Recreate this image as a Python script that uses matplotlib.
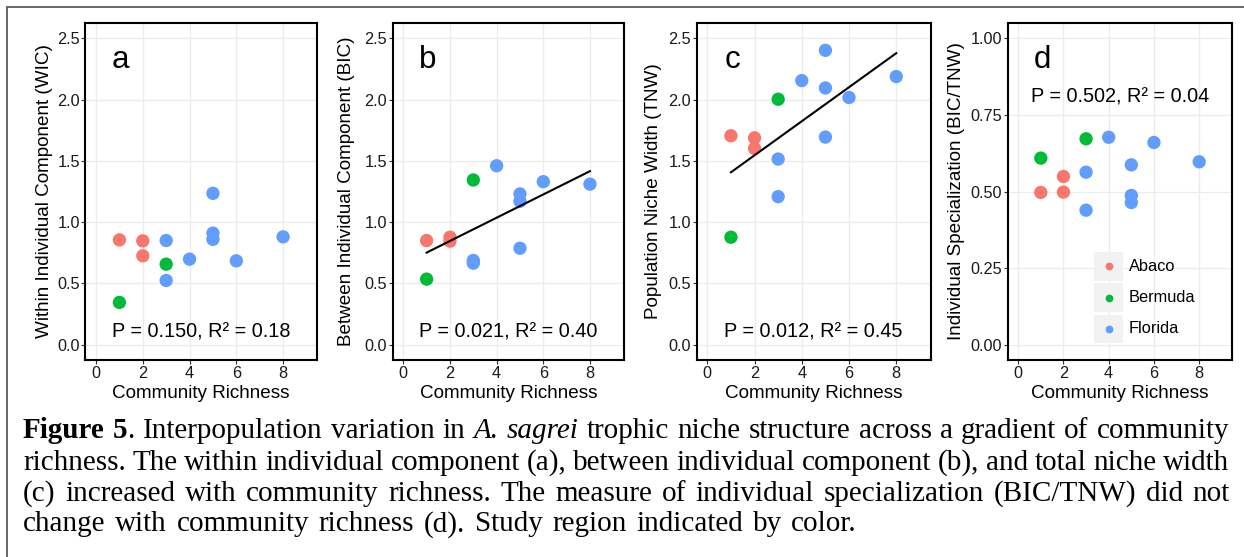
import matplotlib
matplotlib.use("Agg")
import matplotlib.pyplot as plt
import numpy as np
from matplotlib.patches import Rectangle
from matplotlib.lines import Line2D

W, H = 1244, 557

# ---------------- data ----------------
regions = ["Abaco", "Bermuda", "Florida"]
region_colors = ["#F8766D", "#00BA38", "#619CFF"]

abaco_richness = [1, 2, 2]
bermuda_richness = [1, 3]
florida_richness = [3, 3, 4, 5, 5, 5, 6, 8]

wic_abaco = [0.855, 0.847, 0.725]
wic_bermuda = [0.345, 0.657]
wic_florida = [0.85, 0.524, 0.698, 1.235, 0.91, 0.86, 0.684, 0.88]

bic_abaco = [0.85, 0.877, 0.845]
bic_bermuda = [0.535, 1.344]
bic_florida = [0.687, 0.665, 1.46, 1.23, 1.17, 0.787, 1.33, 1.31]

tnw_abaco = [1.705, 1.688, 1.601]
tnw_bermuda = [0.877, 2.003]
tnw_florida = [1.515, 1.208, 2.155, 2.402, 2.095, 1.694, 2.017, 2.188]

spec_abaco = [0.497, 0.549, 0.498]
spec_bermuda = [0.609, 0.672]
spec_florida = [0.563, 0.439, 0.677, 0.587, 0.487, 0.464, 0.66, 0.597]

panel_letters = ["a", "b", "c", "d"]
panel_ylabels = ["Within Individual Component (WIC)",
                 "Between Individual Component (BIC)",
                 "Population Niche Width (TNW)",
                 "Individual Specialization (BIC/TNW)"]
panel_stats = ["P = 0.150, R² = 0.18", "P = 0.021, R² = 0.40",
               "P = 0.012, R² = 0.45", "P = 0.502, R² = 0.04"]
panel_fit = [False, True, True, False]
xticks = [0, 2, 4, 6, 8]
yticks_main = [0.0, 0.5, 1.0, 1.5, 2.0, 2.5]
ytick_labels_main = ["0.0", "0.5", "1.0", "1.5", "2.0", "2.5"]
yticks_spec = [0.0, 0.25, 0.5, 0.75, 1.0]
ytick_labels_spec = ["0.00", "0.25", "0.50", "0.75", "1.00"]
xlabel = "Community Richness"

caption_lines = [
    [[("Figure", "bold")], [("5", "bold"), (".", "normal")], [("Interpopulation", "normal")],
     [("variation", "normal")], [("in", "normal")], [("A.", "italic")], [("sagrei", "italic")],
     [("trophic", "normal")], [("niche", "normal")], [("structure", "normal")],
     [("across", "normal")], [("a", "normal")], [("gradient", "normal")], [("of", "normal")],
     [("community", "normal")]],
    "richness. The within individual component (a), between individual component (b), and total niche width",
    "(c) increased with community richness. The measure of individual specialization (BIC/TNW) did not",
    "change with community richness (d). Study region indicated by color.",
]

series = [
    (wic_abaco, wic_bermuda, wic_florida),
    (bic_abaco, bic_bermuda, bic_florida),
    (tnw_abaco, tnw_bermuda, tnw_florida),
    (spec_abaco, spec_bermuda, spec_florida),
]
richness_by_region = [abaco_richness, bermuda_richness, florida_richness]

# ---------------- layout ----------------
fig = plt.figure(figsize=(W / 100, H / 100), dpi=100)
fig.patch.set_facecolor("white")

SANS = "Liberation Sans"
boxes = [(85.5, 23, 317, 360), (392.8, 23, 623.8, 360),
         (696.7, 23, 930.5, 360), (1008, 23, 1232, 360)]
ylabel_x = [45, 346.7, 653, 956.7]

# figure border
fig.add_artist(Rectangle((7 / W, -0.1), 1.2, (H - 7) / H + 0.1, transform=fig.transFigure,
                         fill=False, edgecolor="#666666", lw=1.4))

for i in range(4):
    l, t, r, b = boxes[i]
    ax = fig.add_axes([l / W, (H - b) / H, (r - l) / W, (b - t) / H])
    spec = (i == 3)
    ymax = 1.0 if spec else 2.5
    ax.set_xlim(-0.45, 9.45)
    ax.set_ylim(-0.05 * ymax, 1.05 * ymax)
    ax.set_xticks(xticks)
    ax.set_xticklabels([str(v) for v in xticks])
    if spec:
        ax.set_yticks(yticks_spec)
        ax.set_yticklabels(ytick_labels_spec)
    else:
        ax.set_yticks(yticks_main)
        ax.set_yticklabels(ytick_labels_main)
    ax.grid(True, color="#EBEBEB", lw=0.9)
    ax.set_axisbelow(True)
    for s in ax.spines.values():
        s.set_color("black")
        s.set_linewidth(1.5)
    ax.tick_params(length=2.6, width=0.8, color="#333333", pad=1.5,
                   labelsize=11.7, labelcolor="#1a1a1a")
    for lab in ax.get_xticklabels() + ax.get_yticklabels():
        lab.set_fontfamily(SANS)

    all_x, all_y = [], []
    for k in range(3):
        xs = richness_by_region[k]
        ys = series[i][k]
        ax.scatter(xs, ys, s=92, color=region_colors[k], edgecolors="none", zorder=3)
        all_x += xs
        all_y += ys
    if panel_fit[i]:
        coef = np.polyfit(all_x, all_y, 1)
        xx = np.array([min(all_x), max(all_x)])
        ax.plot(xx, np.polyval(coef, xx), color="black", lw=1.5, zorder=4)

    ax.text(1.05, 0.928 * ymax, panel_letters[i], fontsize=22.5, family=SANS,
            ha="center", va="center", color="black")
    ax.text(4.5, (0.81 if spec else 0.043) * ymax, panel_stats[i], fontsize=14.3,
            family=SANS, ha="center", va="center", color="black")

    fig.text((l + r) / 2 / W, 1 - 393 / H, xlabel, fontsize=13.6, family=SANS,
             ha="center", va="center", color="black")
    fig.text(ylabel_x[i] / W, 1 - (t + b) / 2 / H, panel_ylabels[i], fontsize=13.6,
             family=SANS, rotation=90, ha="center", va="center", color="black")

# legend in panel d (manual ggplot-style keys)
for k, name in enumerate(regions):
    ky = 252 + k * 31.3
    fig.add_artist(Rectangle((1094 / W, 1 - (ky + 28.6) / H), 29 / W, 28.6 / H,
                             transform=fig.transFigure, facecolor="#F2F2F2",
                             edgecolor="none"))
    cy = 1 - (ky + 14.3) / H
    fig.add_artist(Line2D([1108.5 / W], [cy], marker="o", markersize=5.6,
                          color=region_colors[k], markeredgewidth=0,
                          transform=fig.transFigure))
    fig.text(1128.5 / W, cy, name, fontsize=11.8, family=SANS, ha="left",
             va="center", color="black")

# ---------------- caption (justified) ----------------
SERIF = ["Liberation Serif", "DejaVu Serif"]
cap_fs = 21.0
baselines = [438.3, 469.5, 500.6, 531.3]
x0, x1 = 23.0, 1229.5
fig.canvas.draw()
renderer = fig.canvas.get_renderer()
for li, line in enumerate(caption_lines):
    if isinstance(line, str):
        words = [[(w, "normal")] for w in line.split(" ")]
    else:
        words = line
    y = 1 - baselines[li] / H
    objs = []
    total = 0.0
    for w in words:
        pieces = []
        for s, st in w:
            kw = dict(fontsize=cap_fs, family=SERIF, va="baseline", ha="left", color="black")
            if st == "bold":
                kw["fontweight"] = "bold"
            if st == "italic":
                kw["fontstyle"] = "italic"
            tt = fig.text(0, y, s, **kw)
            wd = tt.get_window_extent(renderer).width
            pieces.append((tt, wd))
            total += wd
        objs.append(pieces)
    justify = li < len(caption_lines) - 1
    gap = (x1 - x0 - total) / (len(objs) - 1) if justify else cap_fs * 100 / 72 * 0.33
    x = x0
    for pieces in objs:
        for tt, wd in pieces:
            tt.set_x(x / W)
            x += wd
        x += gap

fig.savefig("out.png", dpi=100, facecolor="white")
